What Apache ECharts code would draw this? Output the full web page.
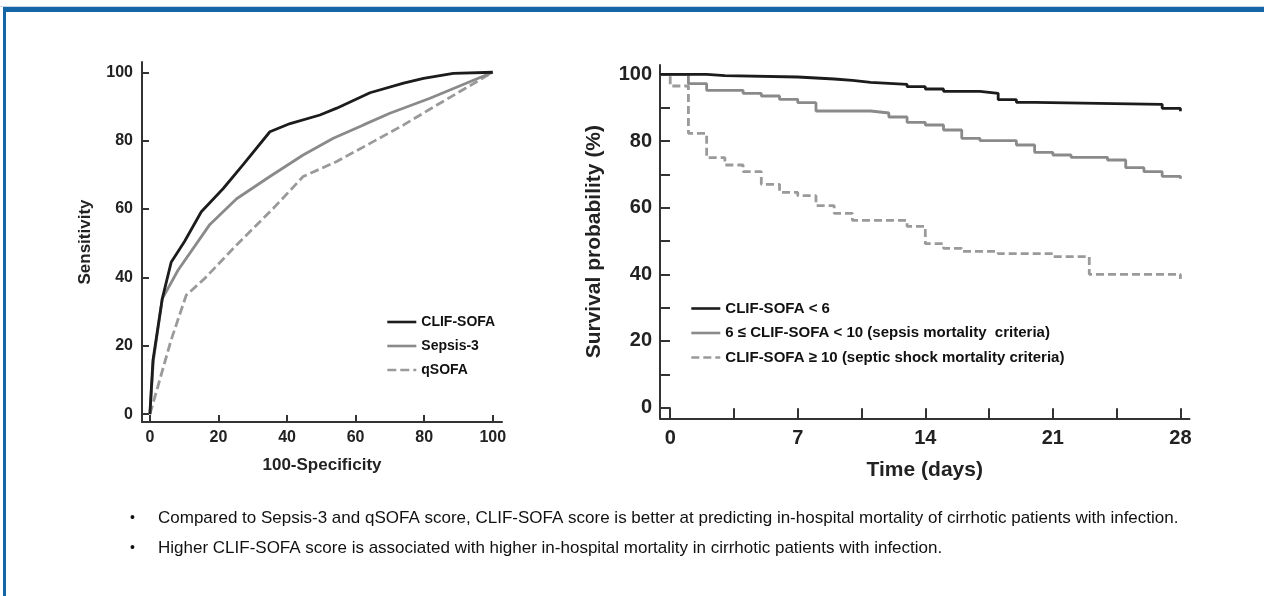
<!DOCTYPE html>
<html>
<head>
<meta charset="utf-8">
<script src="https://cdn.jsdelivr.net/npm/echarts@6/dist/echarts.min.js"></script>
<style>
html,body{margin:0;padding:0;background:#fff;}
#chart{width:1264px;height:596px;}
</style>
</head>
<body>
<div id="chart"></div>
<script>
// ---- ROC panel data (x = 100-Specificity, y = Sensitivity) ----
const rocClifX = [0, 0.9, 3.6, 6.2, 10.1, 15.0, 21.4, 27.2, 35.0, 40.9, 49.6, 54.5, 64.2, 74.0, 79.8, 88.5, 100];
const rocClifY = [0, 15.8, 33.7, 44.4, 50.5, 59.2, 66.0, 73.0, 82.6, 85.0, 87.5, 89.5, 94.0, 96.8, 98.2, 99.7, 100];
const rocSepsisX = [0, 1.0, 3.6, 8.2, 17.5, 25.3, 35.0, 44.7, 53.5, 62.3, 70.0, 81.7, 100];
const rocSepsisY = [0, 15.5, 33.7, 42.1, 55.5, 63.0, 69.5, 75.8, 80.7, 84.6, 88.0, 92.4, 100];
const rocQsofaX = [0, 2.3, 6.2, 10.6, 16.0, 25.3, 36.0, 44.7, 54.5, 64.2, 74.0, 83.7, 100];
const rocQsofaY = [0, 8.0, 21.7, 34.8, 39.7, 49.5, 60.2, 69.5, 73.9, 79.2, 84.6, 90.4, 100];
const rocTicks = [0, 20, 40, 60, 80, 100];
const rocNames = ['CLIF-SOFA', 'Sepsis-3', 'qSOFA'];

// ---- Kaplan-Meier panel data (days, survival %) ----
const kmLowT = [-0.56, 2, 3, 7, 8, 9, 10, 11, 13, 14, 15, 17, 18, 19, 20, 27, 28];
const kmLowS = [100, 99.6, 99.2, 98.9, 98.6, 98.2, 97.6, 97.0, 96.3, 95.6, 94.9, 94.3, 92.4, 91.6, 91.0, 89.8, 88.9];
const kmMidT = [-0.56, 1, 2, 4, 5, 6, 7, 8, 11, 12, 13, 14, 15, 16, 17, 19, 20, 21, 22, 24, 25, 26, 27, 28];
const kmMidS = [100, 97.2, 95.2, 94.3, 93.5, 92.5, 91.5, 89.0, 88.4, 87.2, 85.6, 84.8, 83.3, 80.8, 80.1, 78.8, 76.6, 75.8, 75.1, 74.3, 72.0, 70.8, 69.4, 68.7];
const kmHighT = [-0.56, 0, 1, 2, 3, 4, 5, 6, 7, 8, 9, 10, 13, 14, 15, 16, 18, 21, 23, 28];
const kmHighS = [100, 96.5, 82.3, 75.0, 72.8, 70.8, 67.0, 64.6, 63.6, 60.6, 58.3, 56.2, 54.4, 49.2, 47.8, 46.9, 46.2, 45.3, 40.0, 38.6];
const kmOriginT = [-0.56, 0, 0];
const kmOriginS = [0, 0, -3.2];
const kmTickDays = [0, 3.5, 7, 10.5, 14, 17.5, 21, 24.5, 28];
const kmLabelDays = [0, 7, 14, 21, 28];
const kmTickSurv = [0, 10, 20, 30, 40, 50, 60, 70, 80, 90, 100];
const kmLabelSurv = [0, 20, 40, 60, 80, 100];
const kmNames = ['CLIF-SOFA < 6', '6 \u2264 CLIF-SOFA < 10 (sepsis mortality  criteria)', 'CLIF-SOFA \u2265 10 (septic shock mortality criteria)'];

const bullets = [
  'Compared to Sepsis-3 and qSOFA score, CLIF-SOFA score is better at predicting in-hospital mortality of cirrhotic patients with infection.',
  'Higher CLIF-SOFA score is associated with higher in-hospital mortality in cirrhotic patients with infection.'
];

const zip = (a, b) => a.map((v, i) => [v, b[i]]);
const FONT = "'Liberation Sans', Arial, sans-serif";
const BLACK = '#1c1c1c', GRAY = '#8a8a8a', DGRAY = '#9a9a9a';

const chart = echarts.init(document.getElementById('chart'), null, {renderer: 'canvas'});

function axisCommon() {
  return {
    axisLine: {show: true, onZero: false, lineStyle: {color: '#333', width: 2}},
    splitLine: {show: false}
  };
}

const option = {
  backgroundColor: '#fff',
  animation: false,
  grid: [
    {left: 142, top: 62, width: 360, height: 360},
    {left: 660, top: 65, width: 529.5, height: 353.3}
  ],
  xAxis: [
    Object.assign(axisCommon(), {
      gridIndex: 0, type: 'value', min: -2.3, max: 102.7,
      name: '100-Specificity', nameLocation: 'middle', nameGap: 35,
      nameTextStyle: {fontFamily: FONT, fontWeight: 'bold', fontSize: 17, color: '#222'},
      axisTick: {show: true, inside: true, length: 7, customValues: rocTicks, lineStyle: {color: '#333', width: 2}},
      axisLabel: {customValues: rocTicks, fontFamily: FONT, fontWeight: 'bold', fontSize: 16, color: '#222', margin: 8}
    }),
    Object.assign(axisCommon(), {
      gridIndex: 1, type: 'value', min: -0.56, max: 28.5,
      name: 'Time (days)', nameLocation: 'middle', nameGap: 41,
      nameTextStyle: {fontFamily: FONT, fontWeight: 'bold', fontSize: 21, color: '#222'},
      axisTick: {show: true, inside: true, length: 10, customValues: kmTickDays, lineStyle: {color: '#333', width: 2}},
      axisLabel: {customValues: kmLabelDays, fontFamily: FONT, fontWeight: 'bold', fontSize: 20, color: '#222', margin: 10}
    })
  ],
  yAxis: [
    Object.assign(axisCommon(), {
      gridIndex: 0, type: 'value', min: -2.3, max: 103,
      name: 'Sensitivity', nameLocation: 'middle', nameGap: 48, nameRotate: 90,
      nameTextStyle: {fontFamily: FONT, fontWeight: 'bold', fontSize: 17, color: '#222'},
      axisTick: {show: true, inside: true, length: 7, customValues: rocTicks, lineStyle: {color: '#333', width: 2}},
      axisLabel: {customValues: rocTicks, fontFamily: FONT, fontWeight: 'bold', fontSize: 16, color: '#222', margin: 9}
    }),
    Object.assign(axisCommon(), {
      gridIndex: 1, type: 'value', min: -3.2, max: 102.8,
      name: 'Survival probability (%)', nameLocation: 'middle', nameGap: 55, nameRotate: 90,
      nameTextStyle: {fontFamily: FONT, fontWeight: 'bold', fontSize: 21, color: '#222'},
      axisTick: {show: true, inside: true, length: 10, customValues: kmTickSurv, lineStyle: {color: '#333', width: 2}},
      axisLabel: {customValues: kmLabelSurv, fontFamily: FONT, fontWeight: 'bold', fontSize: 20, color: '#222', margin: 8}
    })
  ],
  legend: [
    {
      data: rocNames, orient: 'vertical', left: 381, top: 310,
      itemWidth: 29, itemHeight: 14, itemGap: 10, selectedMode: false,
      itemStyle: {opacity: 0}, lineStyle: {width: 2.6},
      textStyle: {fontFamily: FONT, fontWeight: 'bold', fontSize: 14, color: '#111'}
    },
    {
      data: kmNames, orient: 'vertical', left: 685, top: 296,
      itemWidth: 29, itemHeight: 14, itemGap: 9.5, selectedMode: false,
      itemStyle: {opacity: 0}, lineStyle: {width: 2.6},
      textStyle: {fontFamily: FONT, fontWeight: 'bold', fontSize: 15, color: '#111'}
    }
  ],
  series: [
    {name: rocNames[0], type: 'line', xAxisIndex: 0, yAxisIndex: 0, data: zip(rocClifX, rocClifY), symbol: 'none',
      lineStyle: {color: BLACK, width: 2.8}, itemStyle: {color: BLACK}, z: 5},
    {name: rocNames[1], type: 'line', xAxisIndex: 0, yAxisIndex: 0, data: zip(rocSepsisX, rocSepsisY), symbol: 'none',
      lineStyle: {color: GRAY, width: 2.8}, itemStyle: {color: GRAY}, z: 4},
    {name: rocNames[2], type: 'line', xAxisIndex: 0, yAxisIndex: 0, data: zip(rocQsofaX, rocQsofaY), symbol: 'none',
      lineStyle: {color: DGRAY, width: 2.8, type: [9, 4]}, itemStyle: {color: DGRAY}, z: 3},
    {name: kmNames[0], type: 'line', xAxisIndex: 1, yAxisIndex: 1, data: zip(kmLowT, kmLowS), step: 'end', symbol: 'none',
      lineStyle: {color: BLACK, width: 2.8}, itemStyle: {color: BLACK}, z: 5},
    {name: kmNames[1], type: 'line', xAxisIndex: 1, yAxisIndex: 1, data: zip(kmMidT, kmMidS), step: 'end', symbol: 'none',
      lineStyle: {color: GRAY, width: 2.8}, itemStyle: {color: GRAY}, z: 4},
    {name: kmNames[2], type: 'line', xAxisIndex: 1, yAxisIndex: 1, data: zip(kmHighT, kmHighS), step: 'end', symbol: 'none',
      lineStyle: {color: DGRAY, width: 2.8, type: [8, 4]}, itemStyle: {color: DGRAY}, z: 3},
    {name: 'origin', type: 'line', xAxisIndex: 1, yAxisIndex: 1, data: zip(kmOriginT, kmOriginS), symbol: 'none', silent: true,
      lineStyle: {color: '#333', width: 1.5}, z: 2}
  ],
  graphic: [
    {type: 'rect', shape: {x: 0, y: 6, width: 1264, height: 1}, style: {fill: '#c9d6e3'}, silent: true},
    {type: 'rect', shape: {x: 3, y: 7, width: 1261, height: 5}, style: {fill: '#1466a6'}, silent: true},
    {type: 'rect', shape: {x: 3, y: 7, width: 3, height: 589}, style: {fill: '#1466a6'}, silent: true},
    {type: 'text', x: 130, y: 518, style: {text: '\u2022', font: "14px " + FONT, fill: '#111', verticalAlign: 'middle'}},
    {type: 'text', x: 158, y: 518, style: {text: bullets[0], font: "17px " + FONT, fill: '#111', verticalAlign: 'middle'}},
    {type: 'text', x: 130, y: 548, style: {text: '\u2022', font: "14px " + FONT, fill: '#111', verticalAlign: 'middle'}},
    {type: 'text', x: 158, y: 548, style: {text: bullets[1], font: "17px " + FONT, fill: '#111', verticalAlign: 'middle'}}
  ]
};
chart.setOption(option);
</script>
</body>
</html>
